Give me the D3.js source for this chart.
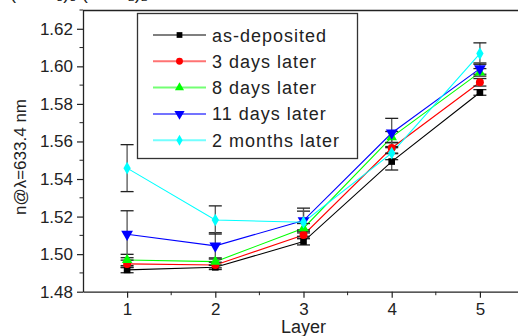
<!DOCTYPE html>
<html>
<head>
<meta charset="utf-8">
<script src="https://cdn.jsdelivr.net/npm/d3@7"></script>
<style>
  html, body { margin: 0; padding: 0; background: #fff; overflow: hidden; }
  svg { display: block; font-family: "Liberation Sans", Arial, sans-serif; }
</style>
</head>
<body>
<svg id="mainSvg"></svg>
<script>
// data
const layers = [1, 2, 3, 4, 5];
const seriesNames = ['as-deposited', '3 days later', '8 days later', '11 days later', '2 months later'];
const asDeposited = [1.4916, 1.4930, 1.5067, 1.5493, 1.5861];
const days3 = [1.4948, 1.4942, 1.5102, 1.5565, 1.5915];
const days8 = [1.4969, 1.4960, 1.5138, 1.5623, 1.5968];
const days11 = [1.5106, 1.5044, 1.5179, 1.5645, 1.5988];
const months2 = [1.5458, 1.5182, 1.5170, 1.5538, 1.6068];
const asDepositedErr = [0.0015, 0.0012, 0.0018, 0.0045, 0.0015];
const days3Err = [0.002, 0.0015, 0.002, 0.003, 0.002];
const days8Err = [0.003, 0.002, 0.0025, 0.003, 0.002];
const days11Err = [0.0125, 0.007, 0.005, 0.0078, 0.003];
const months2Err = [0.0125, 0.0075, 0.0075, 0.0035, 0.0057];
const yTicks = [1.48, 1.50, 1.52, 1.54, 1.56, 1.58, 1.60, 1.62];

const width = 518;
const height = 336;
const colors = ['#000000', '#ff0000', '#00ff00', '#0000ff', '#00ffff'];
const symbols = [d3.symbolSquare, d3.symbolCircle, d3.symbolTriangle, d3.symbolTriangle, d3.symbolDiamond];
const symbolSizes = [44, 50, 48, 60, 46];
const symbolRot = [0, 0, 0, 180, 0];
const errors = [asDepositedErr, days3Err, days8Err, days11Err, months2Err];

const series = [asDeposited, days3, days8, days11, months2].map((vals, i) => ({
  name: seriesNames[i],
  color: colors[i],
  points: vals.map((v, j) => ({ x: layers[j], y: v, err: errors[i][j] }))
}));

const svg = d3.select('#mainSvg')
  .attr('width', width)
  .attr('height', height);

const xScale = d3.scaleLinear().domain([0.5, 5.5]).range([83, 524]);
const yScale = d3.scaleLinear().domain([1.48, 1.63]).range([291.7, 10]);

// cut-off title above the plot
svg.append('text')
  .attr('x', -6)
  .attr('y', -1)
  .style('font-size', '18px')
  .style('fill', '#222')
  .text('Si(OCH\u2083)\u2083 (OCH\u2082)\u2082');

// top frame line
svg.append('line')
  .attr('x1', 83).attr('x2', width)
  .attr('y1', 10.5).attr('y2', 10.5)
  .attr('stroke', '#222')
  .attr('stroke-width', 1.3);

// axes
const xAxis = svg.append('g')
  .attr('transform', `translate(0,${yScale(1.48)})`)
  .call(d3.axisBottom(xScale).tickValues(layers).tickFormat(d3.format('d')).tickSize(6).tickSizeOuter(0).tickPadding(5));
xAxis.append('g').selectAll('line')
  .data([1.5, 2.5, 3.5, 4.5, 5.5])
  .enter().append('line')
  .attr('x1', d => xScale(d)).attr('x2', d => xScale(d))
  .attr('y1', 0).attr('y2', 3.5)
  .attr('stroke', '#222');

const yAxis = svg.append('g')
  .attr('transform', `translate(83,0)`)
  .call(d3.axisLeft(yScale).tickValues(yTicks).tickFormat(d3.format('.2f')).tickSize(6).tickSizeOuter(0).tickPadding(4));
yAxis.append('g').selectAll('line')
  .data(yTicks.map(d => d + 0.01))
  .enter().append('line')
  .attr('x1', 0).attr('x2', -3.5)
  .attr('y1', d => yScale(d)).attr('y2', d => yScale(d))
  .attr('stroke', '#222');

[xAxis, yAxis].forEach(ax => {
  ax.select('.domain').attr('stroke', '#222').attr('stroke-width', 1.3);
  ax.selectAll('.tick line').attr('stroke', '#222').attr('stroke-width', 1.2);
  ax.selectAll('text')
    .style('font-size', '17px')
    .style('font-family', '"Liberation Sans", Arial, sans-serif')
    .attr('fill', '#222');
});

svg.append('text')
  .attr('x', xScale(3))
  .attr('y', 333)
  .style('text-anchor', 'middle')
  .style('font-size', '18px')
  .style('fill', '#222')
  .text('Layer');

svg.append('text')
  .attr('transform', 'rotate(-90)')
  .attr('x', -157)
  .attr('y', 26)
  .style('text-anchor', 'middle')
  .style('font-size', '17px')
  .style('fill', '#222')
  .text('n@\u03bb=633.4 nm');

// lines
const line = d3.line().x(d => xScale(d.x)).y(d => yScale(d.y));
svg.append('g').selectAll('path')
  .data(series)
  .enter().append('path')
  .attr('d', d => line(d.points))
  .attr('fill', 'none')
  .attr('stroke', d => d.color)
  .attr('stroke-width', 1.1);

// error bars
const errG = svg.append('g');
series.forEach(s => {
  const g = errG.append('g');
  g.selectAll('line.bar')
    .data(s.points)
    .enter().append('line')
    .classed('bar', true)
    .attr('x1', d => xScale(d.x)).attr('x2', d => xScale(d.x))
    .attr('y1', d => yScale(d.y - d.err)).attr('y2', d => yScale(d.y + d.err))
    .attr('stroke', '#555').attr('stroke-width', 1.3);
  [1, -1].forEach(sign => {
    g.selectAll(sign > 0 ? 'line.cap-top' : 'line.cap-bottom')
      .data(s.points)
      .enter().append('line')
      .classed(sign > 0 ? 'cap-top' : 'cap-bottom', true)
      .attr('x1', d => xScale(d.x) - 6.5).attr('x2', d => xScale(d.x) + 6.5)
      .attr('y1', d => yScale(d.y + sign * d.err))
      .attr('y2', d => yScale(d.y + sign * d.err))
      .attr('stroke', '#222').attr('stroke-width', 1.3);
  });
});

// markers
series.forEach((s, i) => {
  svg.append('g').selectAll('path')
    .data(s.points)
    .enter().append('path')
    .attr('d', d3.symbol().type(symbols[i]).size(symbolSizes[i]))
    .attr('transform', d => `translate(${xScale(d.x)},${yScale(d.y)}) rotate(${symbolRot[i]})`)
    .attr('fill', s.color);
});

// legend
const legend = svg.append('g');
legend.append('rect')
  .attr('x', 137.5).attr('y', 13.5)
  .attr('width', 220).attr('height', 145)
  .attr('fill', '#fff')
  .attr('stroke', '#333')
  .attr('stroke-width', 1.3);

const rows = legend.selectAll('.row')
  .data(series)
  .enter().append('g')
  .attr('transform', (d, i) => `translate(0,${35 + i * 26.3})`);
rows.append('line')
  .attr('x1', 153).attr('x2', 206)
  .attr('y1', 0).attr('y2', 0)
  .attr('stroke', d => d.color)
  .attr('stroke-width', (d, i) => i === 0 ? 1.1 : 2)
  .attr('stroke-opacity', (d, i) => i === 0 ? 1 : 0.55);
rows.append('path')
  .attr('d', (d, i) => d3.symbol().type(symbols[i]).size(symbolSizes[i] * 0.75)())
  .attr('transform', (d, i) => `translate(179.5,0) rotate(${symbolRot[i]})`)
  .attr('fill', d => d.color);
rows.append('text')
  .attr('x', 212)
  .attr('y', 6.5)
  .style('font-size', '18px')
  .style('letter-spacing', '1px')
  .style('fill', '#222')
  .text(d => d.name);
</script>
</body>
</html>
